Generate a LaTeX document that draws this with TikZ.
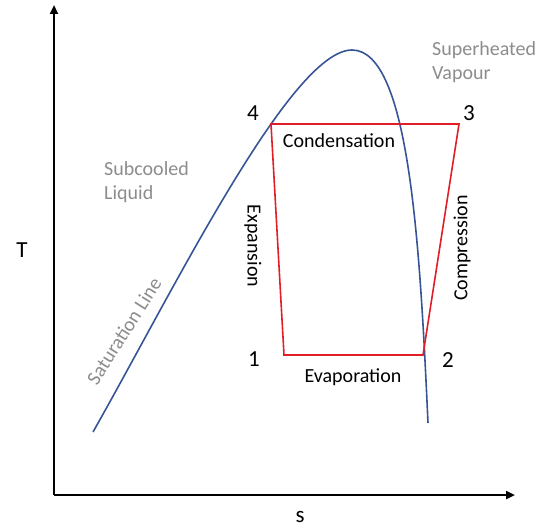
\documentclass[tikz,border=0pt]{standalone}
\usepackage{fontspec}
\setmainfont{Carlito}
\usetikzlibrary{arrows.meta}
\definecolor{satblue}{RGB}{55,85,150}
\definecolor{cyclered}{RGB}{225,30,40}
\definecolor{regiongray}{RGB}{140,140,140}
\begin{document}
\begin{tikzpicture}[x=1bp,y=-1bp,
  axis/.style={line width=2.4bp,-{Triangle[length=9bp,width=8bp]}},
  satline/.style={satblue,line width=1.6bp},
  cycleline/.style={cyclered,line width=1.6bp,line join=miter},
  txt/.style={font=\fontsize{20bp}{24bp}\selectfont,inner sep=0pt},
  num/.style={font=\fontsize{23bp}{26bp}\selectfont,inner sep=0pt,anchor=base},
  region/.style={txt,text=regiongray,align=left,anchor=north west}]
\useasboundingbox (0,0) rectangle (546,529);
% axes
\coordinate (origin) at (54,495);
\coordinate (ttip) at (54,5);
\coordinate (stip) at (515,495);
\draw[axis] (origin) -- (ttip);
\draw[axis] (origin) -- (stip);
\node[num] (Tlab) at (22,257) {T};
\node[num] (slab) at (300,522) {s};
% cycle corners
\coordinate (p4) at (271,124);
\coordinate (p3) at (459,124);
\coordinate (p2) at (423,355);
\coordinate (p1) at (284,355);
% saturation curve
\coordinate (cstart) at (93,432);
\coordinate (cpeak) at (352,50);
\coordinate (cend) at (428,423);
\draw[satline] (cstart) .. controls (173,291) and (291,50) .. (cpeak)
  .. controls (410,50) and (420,250) .. (cend);
% cycle
\draw[cycleline] (p4) -- (p3) -- (p2) -- (p1) -- cycle;
% point labels
\node[num] (n4) at (253,121) {4};
\node[num] (n3) at (469,121) {3};
\node[num] (n1) at (254,366) {1};
\node[num] (n2) at (448,367) {2};
% process labels
\node[txt,anchor=base] (cond) at (339,148) {Condensation};
\node[txt,anchor=base] (evap) at (353,382) {Evaporation};
\node[txt,rotate=-90] (expa) at (253,246) {Expansion};
\node[txt,rotate=90] (comp) at (462,248) {Compression};
% regions
\node[region] (sub) at (104,161) {Subcooled\\Liquid};
\node[region] (sup) at (432,41) {Superheated\\Vapour};
\node[txt,text=regiongray,rotate=57.6] (satlab) at (124,331) {Saturation Line};
\end{tikzpicture}
\end{document}
